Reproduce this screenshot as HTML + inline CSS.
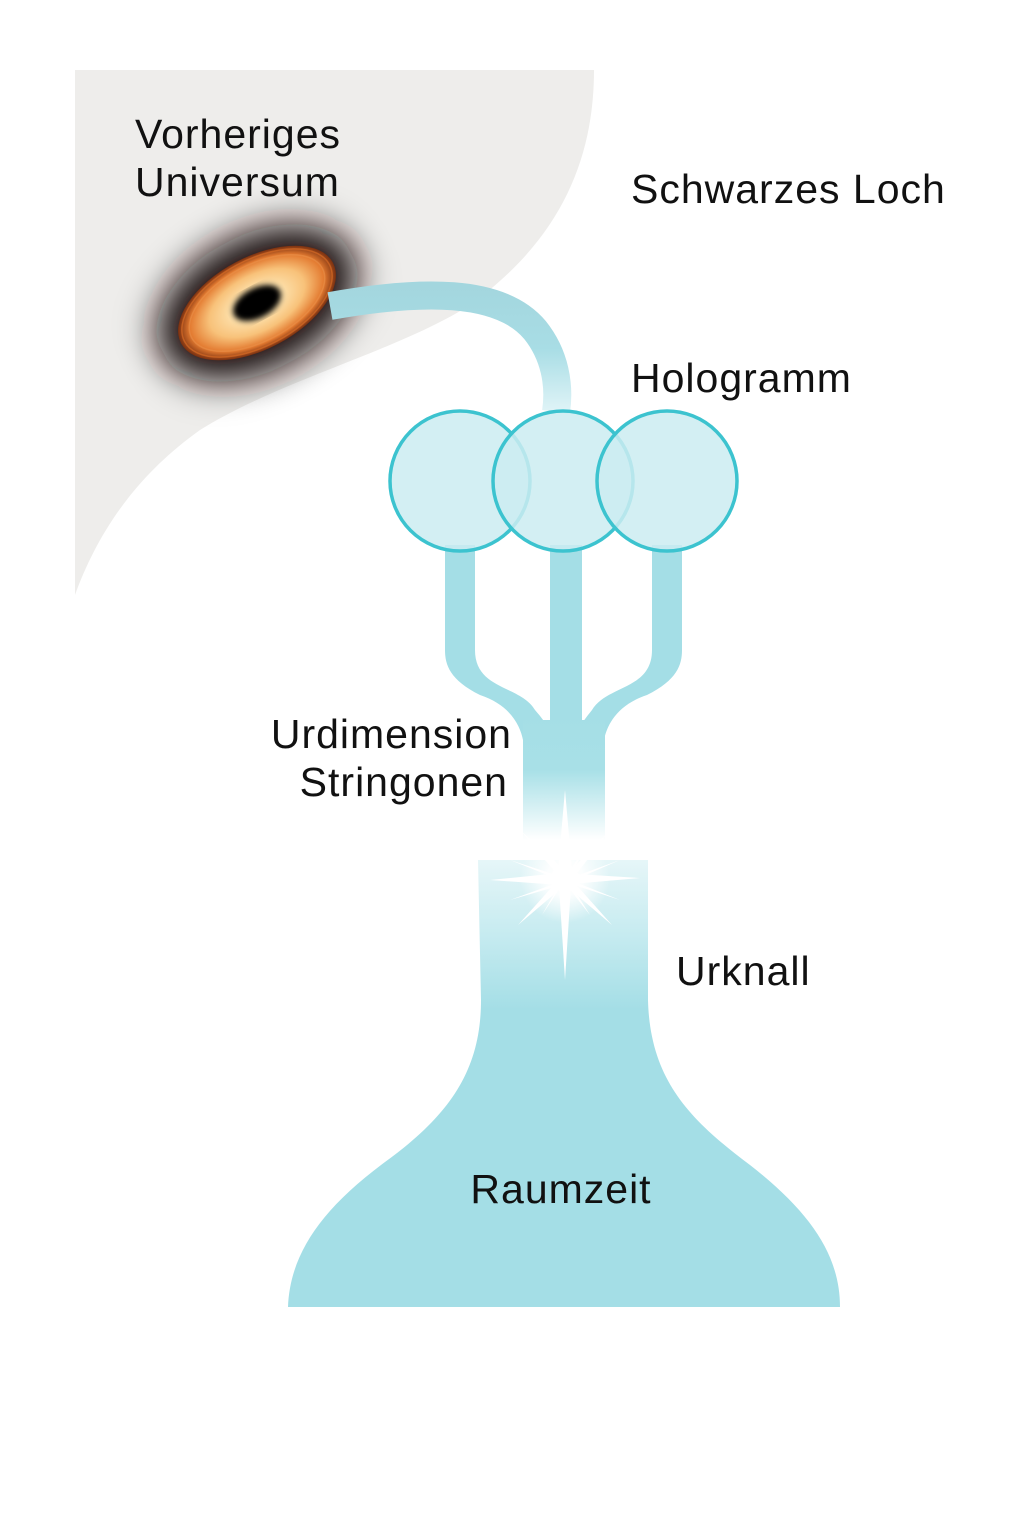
<!DOCTYPE html>
<html><head><meta charset="utf-8"><style>
html,body{margin:0;padding:0;background:#fff;}
svg{display:block;}
text{font-family:"Liberation Sans",sans-serif;fill:#111;font-size:41px;letter-spacing:1px;}
</style></head><body>
<svg width="1024" height="1536" viewBox="0 0 1024 1536" xmlns="http://www.w3.org/2000/svg">
<defs>
<filter id="blur" x="-50%" y="-50%" width="200%" height="200%"><feGaussianBlur stdDeviation="18"/></filter>
<filter id="b2"><feGaussianBlur stdDeviation="3"/></filter>
<linearGradient id="tube" gradientUnits="userSpaceOnUse" x1="0" y1="285" x2="0" y2="412">
<stop offset="0" stop-color="#a3d6de"/><stop offset="0.5" stop-color="#a8dde5"/><stop offset="1" stop-color="#e0f4f7"/></linearGradient>
<linearGradient id="stem" gradientUnits="userSpaceOnUse" x1="0" y1="700" x2="0" y2="840">
<stop offset="0" stop-color="#a4dee6"/><stop offset="0.5" stop-color="#a8e0e7"/><stop offset="1" stop-color="#ffffff"/></linearGradient>
<linearGradient id="flask" gradientUnits="userSpaceOnUse" x1="0" y1="860" x2="0" y2="1010">
<stop offset="0" stop-color="#e6f6f8"/><stop offset="0.5" stop-color="#c6ebf0"/><stop offset="1" stop-color="#a4dee6"/></linearGradient>
<radialGradient id="disk" cx="0.5" cy="0.5" r="0.5">
<stop offset="0.3" stop-color="#fde2ae"/><stop offset="0.6" stop-color="#f8c27a"/><stop offset="0.85" stop-color="#e37a30"/><stop offset="1" stop-color="#7a3010"/></radialGradient>
<radialGradient id="glow" cx="0.5" cy="0.5" r="0.5">
<stop offset="0" stop-color="#fff"/><stop offset="0.4" stop-color="#fff" stop-opacity="0.9"/><stop offset="1" stop-color="#fff" stop-opacity="0"/></radialGradient>
</defs>
<path d="M75,70 H594 C594,160 560,240 470,305 C400,350 280,380 200,430 C130,480 95,540 75,595 Z" fill="#eeedeb"/>
<g transform="translate(257,303) rotate(-28)">
<ellipse cx="0" cy="0" rx="108" ry="68" fill="#1a1008" filter="url(#blur)"/>
<ellipse cx="0" cy="0" rx="86" ry="46" fill="url(#disk)"/>
<ellipse cx="0" cy="0" rx="82" ry="43" fill="none" stroke="#d46a25" stroke-width="1.5" opacity="0.7"/>
<ellipse cx="0" cy="0" rx="74" ry="38" fill="none" stroke="#e8904a" stroke-width="1.5" opacity="0.6"/>
<ellipse cx="0" cy="0" rx="26" ry="15" fill="#000" filter="url(#b2)"/>
</g>
<path d="M330,306 C420,290 500,288 535,330 C555,355 560,385 556,412" fill="none" stroke="url(#tube)" stroke-width="28"/>
<g fill="#a4dee6">
<path d="M445,545 H475 V650 C475,690 520,685 535,710 C548,725 550,730 550,740 L523,740 C520,725 510,705 480,695 C450,680 445,665 445,650 Z"/>
<path d="M652,545 H682 V650 C682,665 677,680 647,695 C617,705 607,725 604,740 L577,740 C577,730 580,725 592,710 C607,685 652,690 652,650 Z"/>
<rect x="550" y="545" width="32" height="200"/>
</g>
<rect x="523" y="720" width="82" height="120" fill="url(#stem)"/>
<path d="M478,860 L648,860 L648,1000 C650,1080 690,1120 750,1165 C810,1212 840,1255 840,1307 L288,1307 C290,1255 320,1210 385,1162 C450,1115 481,1070 481,1000 Z" fill="url(#flask)"/>
<g fill="#cbecf1" fill-opacity="0.85" stroke="#3cc3cf" stroke-width="3.5">
<circle cx="460" cy="481" r="70"/>
<circle cx="563" cy="481" r="70"/>
<circle cx="667" cy="481" r="70"/>
</g>
<circle cx="565" cy="878" r="45" fill="url(#glow)"/>
<g fill="#fff">
<polygon points="565,790 572,870 565,980 558,870"/>
<polygon points="490,880 560,873 640,878 560,885"/>
<polygon points="520,830 568,873 610,830 572,880 612,925 565,885 518,925 560,878"/>
<polygon points="540,840 566,876 590,840 568,880 590,915 564,882 542,915 562,880"/>
<polygon points="510,900 565,880 620,860 565,884"/>
<polygon points="510,860 565,878 620,900 565,882"/>
</g>
<circle cx="565" cy="878" r="14" fill="#fff"/>
<text x="135" y="148">Vorheriges</text>
<text x="135" y="196">Universum</text>
<text x="631" y="203">Schwarzes Loch</text>
<text x="631" y="392">Hologramm</text>
<text x="512" y="748" text-anchor="end">Urdimension</text>
<text x="508" y="796" text-anchor="end">Stringonen</text>
<text x="676" y="985">Urknall</text>
<text x="561" y="1203" text-anchor="middle">Raumzeit</text>
</svg>
</body></html>
